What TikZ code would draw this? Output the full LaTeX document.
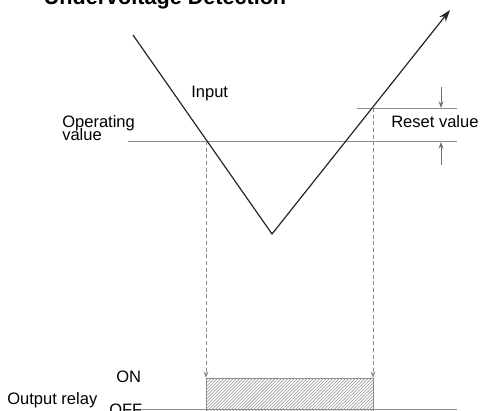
\documentclass[tikz,border=0pt]{standalone}
\usepackage{fontspec}
\setmainfont{Liberation Sans}
\usetikzlibrary{arrows.meta,patterns.meta}

\definecolor{rulegray}{RGB}{140,140,140}

\tikzset{
  level line/.style={draw=rulegray, line width=0.65pt},
  drop line/.style={draw=rulegray, line width=0.6pt, dash pattern=on 3pt off 2pt,
    -{Stealth[length=5pt,width=3.6pt]}},
  gap arrow/.style={draw=rulegray!80!black, line width=0.6pt, -{Stealth[length=5pt,width=3.6pt]}},
  lbl/.style={font=\fontsize{12.4}{14}\selectfont, inner sep=0pt, anchor=base west},
}

\begin{document}
\begin{tikzpicture}[x=0.75pt,y=-0.75pt]
\useasboundingbox (0,0) rectangle (481,410);
\clip (0,0) rectangle (481,410);

% input curve
\coordinate (inStart) at (133,35);
\coordinate (inLow) at (272,234);
\coordinate (inEnd) at (450,10);
% crossings with the two levels
\coordinate (opCross) at (206,141);
\coordinate (rsCross) at (373,108);

% title (top is cut off in the original)
\node[font=\bfseries\fontsize{16.2}{19}\selectfont, inner sep=0pt, anchor=base west]
  (title) at (43.5,5) {Undervoltage Detection};

% levels
\draw[level line] (128,141) coordinate (opL) -- (457,141) coordinate (opR);
\draw[level line] (357,108) coordinate (rsL) -- (457,108) coordinate (rsR);

% reset width arrows
\coordinate (gapTop) at (441,87);
\coordinate (gapBot) at (441,165);
\draw[gap arrow] (gapTop) -- (441,108);
\draw[gap arrow] (gapBot) -- (441,142);

\draw[line width=0.9pt, draw=black!85, -{Stealth[length=9pt,width=6pt]}]
  (inStart) -- (inLow) -- (inEnd);

% relay output
\coordinate (onL) at (206,378);
\coordinate (onR) at (373,378);
\draw[level line] (142,409) -- (457,409);
\draw[level line, pattern={Lines[angle=45,distance=1.7pt,line width=0.4pt]}, pattern color=rulegray]
  (206,413) -- (onL) -- (onR) -- (373,413);
\draw[drop line] (opCross) -- (onL);
\draw[drop line] (rsCross) -- (onR);

% texts
\node[lbl] (input) at (191,97) {Input};
\node[lbl] (operating) at (62,127) {Operating};
\node[lbl] (value) at (62,140) {value};
\node[lbl] (reset) at (391,127) {Reset value};
\node[lbl] (on) at (116,382) {ON};
\node[lbl] (relay) at (7,404) {Output relay};
\node[lbl] (off) at (109,415) {OFF};
\end{tikzpicture}
\end{document}
